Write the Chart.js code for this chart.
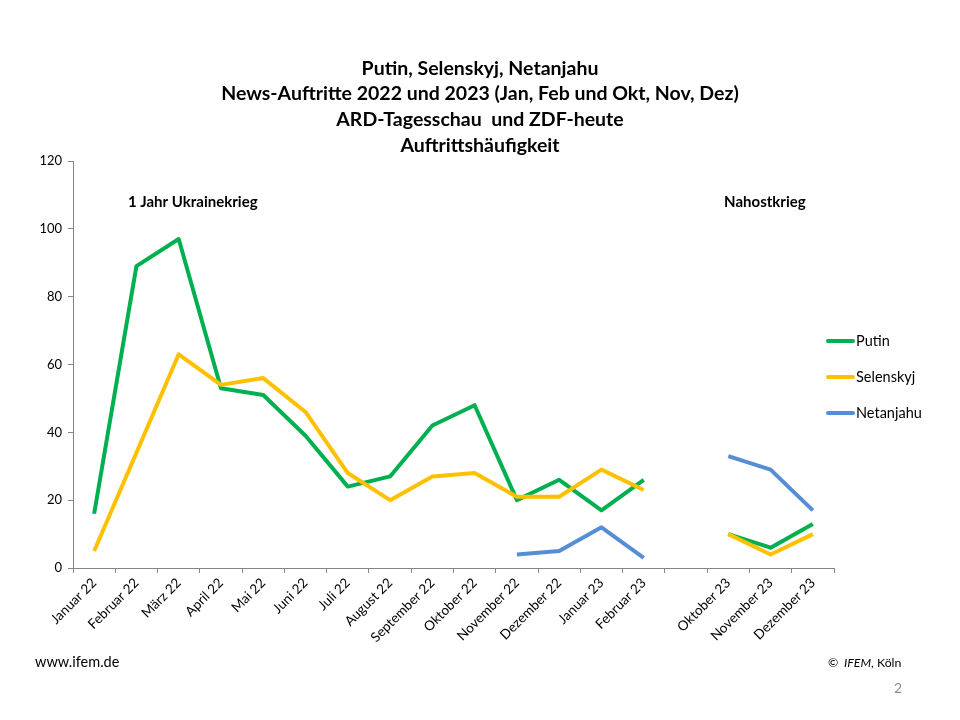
<!DOCTYPE html>
<html>
<head>
<meta charset="utf-8">
<script src="https://cdn.jsdelivr.net/npm/chart.js@4"></script>
<style>
  html, body { margin: 0; padding: 0; background: #fff; }
  #wrap { width: 960px; height: 720px; }
</style>
</head>
<body>
<div id="wrap"><canvas id="chart-1" width="960" height="720"></canvas></div>
<script>
var monthLabels = ["Januar 22", "Februar 22", "März 22", "April 22", "Mai 22", "Juni 22",
  "Juli 22", "August 22", "September 22", "Oktober 22", "November 22", "Dezember 22",
  "Januar 23", "Februar 23", "", "Oktober 23", "November 23", "Dezember 23"];

var putin = [16, 89, 97, 53, 51, 39, 24, 27, 42, 48, 20, 26, 17, 26, null, 10, 6, 13];
var selenskyj = [5, 34, 63, 54, 56, 46, 28, 20, 27, 28, 21, 21, 29, 23, null, 10, 4, 10];
var netanjahu = [null, null, null, null, null, null, null, null, null, null, 4, 5, 12, 3, null, 33, 29, 17];

var yTicks = [0, 20, 40, 60, 80, 100, 120];

var titleLines = ["Putin, Selenskyj, Netanjahu",
  "News-Auftritte 2022 und 2023 (Jan, Feb und Okt, Nov, Dez)",
  "ARD-Tagesschau  und ZDF-heute",
  "Auftrittshäufigkeit"];

var FONT = "Lato, 'Open Sans', sans-serif";

// Titel, Anmerkungen, Legende und Fußzeile
var textPlugin = {
  id: "texts",
  afterDraw: function (chart) {
    var ctx = chart.ctx;
    var x = chart.scales.x;
    var y = chart.scales.y;
    ctx.save();
    ctx.fillStyle = "#000";
    ctx.textBaseline = "middle";

    ctx.textAlign = "center";
    ctx.font = "bold 19.5px " + FONT;
    var titleY = [69, 94, 120, 146];
    titleLines.forEach(function (line, i) {
      ctx.fillText(line, 480, titleY[i]);
    });

    ctx.textAlign = "left";
    ctx.font = "bold 15px " + FONT;
    ctx.fillText("1 Jahr Ukrainekrieg", x.getPixelForValue(0.8), y.getPixelForValue(108));
    ctx.fillText("Nahostkrieg", x.getPixelForValue(14.9), y.getPixelForValue(108));

    // Legende
    var legendY = [341, 377, 413];
    chart.data.datasets.forEach(function (ds, i) {
      ctx.strokeStyle = ds.borderColor;
      ctx.lineWidth = 4;
      ctx.lineCap = "round";
      ctx.beginPath();
      ctx.moveTo(828, legendY[i]);
      ctx.lineTo(853, legendY[i]);
      ctx.stroke();
      ctx.fillStyle = "#000";
      ctx.font = "14.5px " + FONT;
      ctx.fillText(ds.label, 856, legendY[i]);
    });

    ctx.font = "14.5px " + FONT;
    ctx.fillText("www.ifem.de", 35, 662);
    ctx.font = "12.3px " + FONT;
    ctx.fillText("©", 828, 663);
    ctx.font = "italic 12.3px " + FONT;
    ctx.fillText("IFEM", 844, 663);
    var w = ctx.measureText("IFEM").width;
    ctx.font = "12.3px " + FONT;
    ctx.fillText(", Köln", 844 + w, 663);

    ctx.fillStyle = "#8c8c8c";
    ctx.font = "14px " + FONT;
    ctx.fillText("2", 894, 688);
    ctx.restore();
  }
};

var ctx = document.getElementById("chart-1").getContext("2d");
var myChart = new Chart(ctx, {
  type: "line",
  data: {
    labels: monthLabels,
    datasets: [
      // wie in Excel: spätere Reihe liegt oben
      { label: "Putin", data: putin, borderColor: "#00B050", order: 3 },
      { label: "Selenskyj", data: selenskyj, borderColor: "#FFC000", order: 2 },
      { label: "Netanjahu", data: netanjahu, borderColor: "#558ED5", order: 1 }
    ]
  },
  options: {
    responsive: false,
    animation: false,
    spanGaps: false,
    layout: { padding: { top: 161, left: 20, right: 126, bottom: 0 } },
    elements: {
      line: { borderWidth: 4, tension: 0, borderJoinStyle: "round", borderCapStyle: "butt" },
      point: { radius: 0, hoverRadius: 0 }
    },
    plugins: {
      legend: { display: false },
      title: { display: false },
      tooltip: { enabled: false }
    },
    scales: {
      x: {
        offset: true,
        grid: { display: true, drawOnChartArea: false, offset: true, tickLength: 5, color: "#868686" },
        border: { color: "#868686", width: 1 },
        ticks: {
          color: "#000",
          font: { family: FONT, size: 13.5 },
          maxRotation: 45,
          minRotation: 45,
          autoSkip: false,
          padding: 2
        },
        afterFit: function (scale) { scale.height = 152; }
      },
      y: {
        min: 0,
        max: 120,
        afterBuildTicks: function (scale) {
          scale.ticks = yTicks.map(function (v) { return { value: v }; });
        },
        grid: { display: true, drawOnChartArea: false, tickLength: 5, color: "#868686" },
        border: { color: "#868686", width: 1 },
        ticks: { color: "#000", font: { family: FONT, size: 13 }, padding: 6 },
        afterFit: function (scale) { scale.width = 53; }
      }
    }
  },
  plugins: [textPlugin]
});
</script>
</body>
</html>
